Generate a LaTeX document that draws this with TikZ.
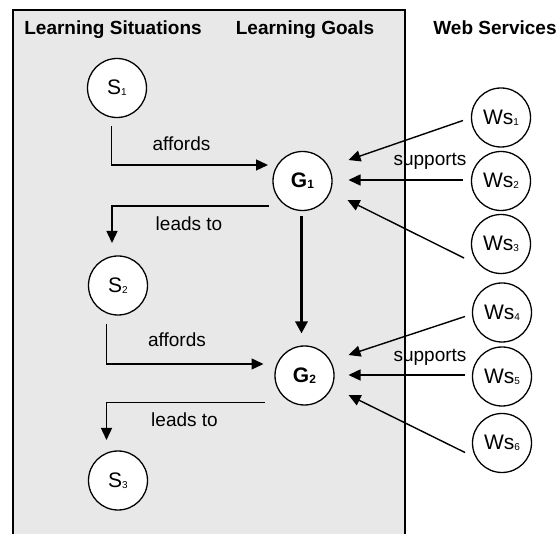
\documentclass[tikz,border=0pt]{standalone}
\usepackage{fontspec}
\setmainfont{Liberation Sans}
\usepackage{tikz}
\usetikzlibrary{arrows.meta, positioning, calc}
\usepackage{xcolor}
\definecolor{boxgray}{RGB}{232,232,232}
\newcommand{\lowidx}[2][10]{\raisebox{-1pt}{\fontsize{#1}{#1}\selectfont #2}}

\begin{document}
\begin{tikzpicture}[x=1pt, y=-1pt,
  every node/.style={font=\fontsize{19}{22}\selectfont},
  ball/.style={draw, circle, fill=white, minimum size=59pt, inner sep=0pt, outer sep=0pt, line width=1.3pt, font=\fontsize{21}{24}\selectfont},
  arr/.style={-{Triangle[length=12pt,width=11pt]}, line width=1.4pt},
  thickarr/.style={-{Triangle[length=12pt,width=12pt]}, line width=3.2pt}]
\useasboundingbox (0,0) rectangle (560,534);
% Grey area
\fill[boxgray] (13,10) rectangle (405,534);
\draw[line width=1.3pt] (13,534) -- (13,10) -- (405,10) -- (405,534);
% Headings
\node[anchor=base, font=\fontsize{19}{22}\selectfont\bfseries] (hsit) at (113,35) {Learning Situations};
\node[anchor=base, font=\fontsize{19}{22}\selectfont\bfseries] (hgoal) at (305,35) {Learning Goals};
\node[anchor=base, font=\fontsize{19}{22}\selectfont\bfseries] (hweb) at (495,35) {Web Services};
% Situations and goals
\node[ball] (S1) at (117,88) {S\lowidx{1}};
\node[ball] (S2) at (118,285.5) {S\lowidx{2}};
\node[ball] (S3) at (118,480.5) {S\lowidx{3}};
\node[ball, font=\fontsize{21}{24}\selectfont\bfseries] (G1) at (302.5,181) {G\lowidx[12]{1}};
\node[ball, font=\fontsize{21}{24}\selectfont\bfseries] (G2) at (304.5,375.5) {G\lowidx[12]{2}};
% Web services
\node[ball] (Ws1) at (501,117.5) {Ws\lowidx{1}};
\node[ball] (Ws2) at (501,181) {Ws\lowidx{2}};
\node[ball] (Ws3) at (501,244) {Ws\lowidx{3}};
\node[ball] (Ws4) at (502,312.5) {Ws\lowidx{4}};
\node[ball] (Ws5) at (502,376.5) {Ws\lowidx{5}};
\node[ball] (Ws6) at (502,443) {Ws\lowidx{6}};
% affords / leads to
\draw[arr] ($(S1.south)+(-5.5,9)$) |- ($(G1.west)+(-5,-16)$);
\node[anchor=base] (aff1) at (181.5,151) {affords};
\draw[arr] ($(G1.west)+(-4,25)$) -| ($(S2.north)+(-6,-13)$);
\node[anchor=base] (lead1) at (189,230.5) {leads to};
\draw[arr] ($(S2.south)+(-11.5,9)$) |- ($(G2.west)+(-11.5,-11.5)$);
\node[anchor=base] (aff2) at (177,347) {affords};
\draw[arr] ($(G2.west)+(-10.5,27)$) -| ($(S3.north)+(-11.5,-11)$);
\node[anchor=base] (lead2) at (184.5,426.5) {leads to};
% goal to goal
\draw[thickarr] ($(G1.south)+(-1,6)$) -- ($(G1.south |- G2.north)+(-1,-12.5)$);
% supports
\draw[arr] ($(Ws1.center)+(-38,3)$) -- ($(G1.center)+(46,-21)$);
\draw[arr] ($(Ws2.center)+(-38,-1)$) -- ($(G1.center)+(46,-1)$);
\draw[arr] ($(Ws3.center)+(-37,14)$) -- ($(G1.center)+(45,19)$);
\node[anchor=base] (sup1) at (430,165.5) {supports};
\draw[arr] ($(Ws4.center)+(-37,4)$) -- ($(G2.center)+(44,-20.5)$);
\draw[arr] ($(Ws5.center)+(-37,-1.5)$) -- ($(G2.center)+(44,-0.5)$);
\draw[arr] ($(Ws6.center)+(-37,9.5)$) -- ($(G2.center)+(44,19.5)$);
\node[anchor=base] (sup2) at (430,361.5) {supports};
\end{tikzpicture}
\end{document}
